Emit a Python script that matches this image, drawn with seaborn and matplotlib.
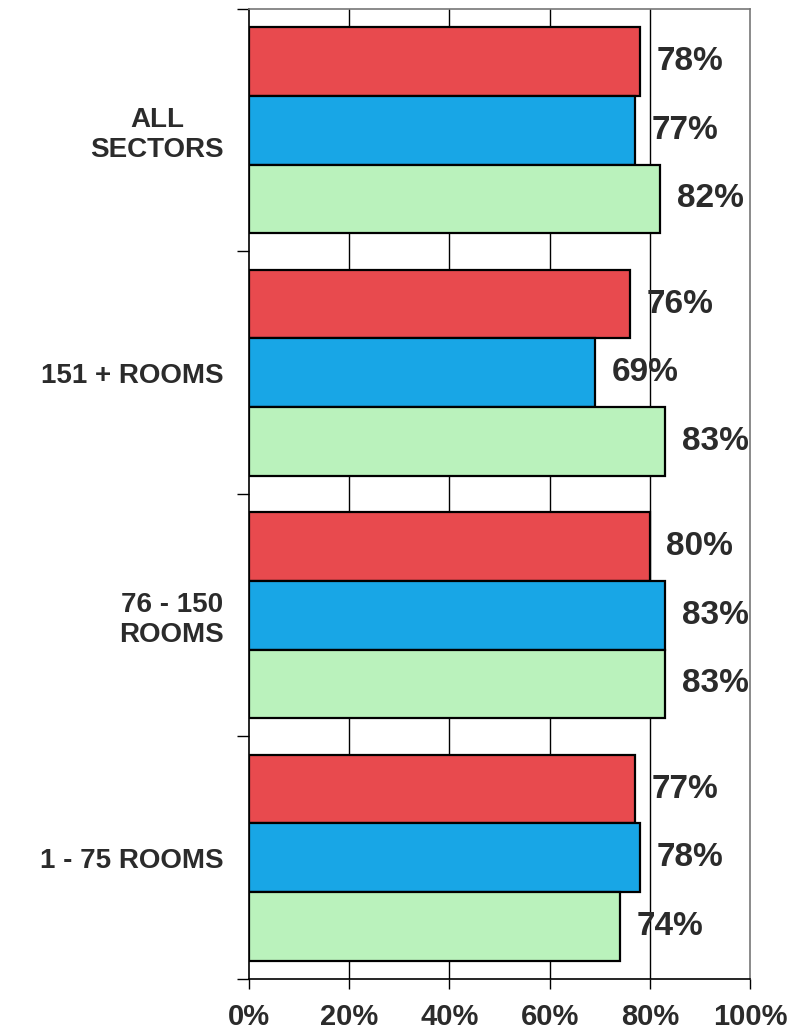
import numpy as np
import pandas as pd
import matplotlib
matplotlib.use("Agg")
import matplotlib.pyplot as plt
import seaborn as sns

categories = ["ALL\nSECTORS", "151 + ROOMS", "76 - 150\nROOMS", "1 - 75 ROOMS"]
series = ["Series 1", "Series 2", "Series 3"]
values_red = [78, 76, 80, 77]
values_blue = [77, 69, 83, 78]
values_green = [82, 83, 83, 74]
x_ticks = [0, 20, 40, 60, 80, 100]

colors = ["#e84a4e", "#18a6e6", "#baf2bc"]
text_col = "#2b2b2b"

df = pd.DataFrame({
    "category": categories * 3,
    "series": [s for s in series for _ in categories],
    "value": values_red + values_blue + values_green,
})

sns.set_style("white")
plt.rcParams["font.family"] = ["Liberation Sans", "DejaVu Sans"]
plt.rcParams["font.weight"] = "bold"

fig = plt.figure(figsize=(7.89, 10.33), dpi=100)
ax = fig.add_axes([0.3156, 0.0523, 0.635, 0.939])

# gridlines behind bars
for t in x_ticks[1:-1]:
    ax.axvline(t, color="black", lw=1.0, zorder=0)

sns.barplot(data=df, y="category", x="value", hue="series", order=categories,
            hue_order=series, palette=colors, saturation=1, orient="h",
            width=0.85, edgecolor="black", linewidth=1.6, legend=False,
            ax=ax, zorder=2)

for cont in ax.containers:
    for bar in cont:
        w = bar.get_width()
        ax.annotate(f"{w:.0f}%", (w, bar.get_y() + bar.get_height() / 2),
                    xytext=(12, 0), textcoords="offset points",
                    ha="left", va="center", fontsize=24, fontweight="bold",
                    color=text_col)

ax.set_xlim(0, 100)
ax.set_ylim(len(categories) - 0.5, -0.5)
ax.set_xticks(x_ticks)
ax.set_xticklabels([f"{t}%" for t in x_ticks], fontsize=21, fontweight="bold",
                   color=text_col)
ax.tick_params(axis="x", bottom=True, direction="out", length=7, width=1,
               color="black", pad=10)

ax.set_yticks(range(len(categories)))
ax.set_yticklabels(categories, fontsize=20, fontweight="bold", color=text_col,
                   multialignment="center")
ax.tick_params(axis="y", which="major", left=True, length=0, pad=18)
ax.set_yticks(np.arange(-0.5, len(categories), 1.0), minor=True)
ax.tick_params(axis="y", which="minor", left=True, direction="out", length=9,
               width=1, color="black")

ax.set_xlabel("")
ax.set_ylabel("")

for side in ["left", "bottom"]:
    ax.spines[side].set_color("black")
    ax.spines[side].set_linewidth(1.2)
for side in ["top", "right"]:
    ax.spines[side].set_color("#777777")
    ax.spines[side].set_linewidth(1.2)

fig.savefig("out.png", dpi=100)
